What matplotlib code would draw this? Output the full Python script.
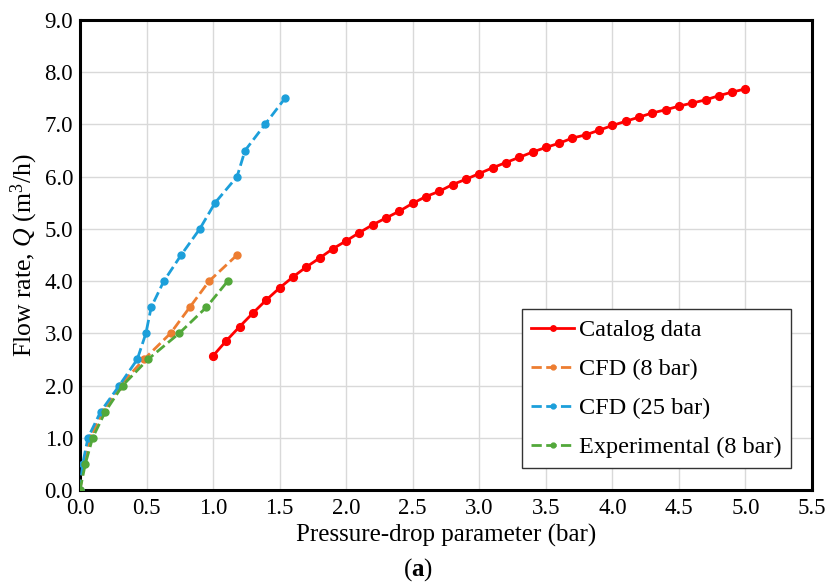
import matplotlib
matplotlib.use("Agg")
import matplotlib.pyplot as plt
from matplotlib.ticker import MultipleLocator, FormatStrFormatter

plt.rcParams['font.family'] = ['Liberation Serif', 'DejaVu Serif']
plt.rcParams['mathtext.fontset'] = 'custom'
plt.rcParams['mathtext.rm'] = 'Liberation Serif'
plt.rcParams['mathtext.it'] = 'Liberation Serif:italic'
plt.rcParams['mathtext.bf'] = 'Liberation Serif:bold'

# Catalog curve, pressure drop (bar) vs flow rate (m3/h)
catalog_dp = [1.0, 1.1, 1.2, 1.3, 1.4, 1.5, 1.6, 1.7, 1.8, 1.9, 2.0,
              2.1, 2.2, 2.3, 2.4, 2.5, 2.6, 2.7, 2.8, 2.9, 3.0,
              3.1, 3.2, 3.3, 3.4, 3.5, 3.6, 3.7, 3.8, 3.9, 4.0,
              4.1, 4.2, 4.3, 4.4, 4.5, 4.6, 4.7, 4.8, 4.9, 5.0]
catalog_q = [2.57, 2.86, 3.13, 3.39, 3.64, 3.87, 4.08, 4.27, 4.44, 4.62, 4.77,
             4.93, 5.08, 5.21, 5.34, 5.49, 5.62, 5.72, 5.85, 5.95, 6.06,
             6.17, 6.27, 6.37, 6.47, 6.56, 6.64, 6.74, 6.80, 6.89, 6.98,
             7.06, 7.14, 7.22, 7.28, 7.35, 7.41, 7.47, 7.55, 7.62, 7.68]

cfd8_dp = [0.0, 0.03, 0.075, 0.17, 0.30, 0.48, 0.68, 0.825, 0.97, 1.18]
cfd8_q = [0.0, 0.5, 1.0, 1.5, 2.0, 2.5, 3.0, 3.5, 4.0, 4.5]

cfd25_dp = [0.0, 0.02, 0.06, 0.155, 0.295, 0.43, 0.495, 0.535, 0.63, 0.76,
            0.90, 1.015, 1.18, 1.24, 1.39, 1.54]
cfd25_q = [0.0, 0.5, 1.0, 1.5, 2.0, 2.5, 3.0, 3.5, 4.0, 4.5,
           5.0, 5.5, 6.0, 6.5, 7.0, 7.5]

exp8_dp = [0.0, 0.04, 0.095, 0.19, 0.32, 0.51, 0.745, 0.95, 1.11]
exp8_q = [0.0, 0.5, 1.0, 1.5, 2.0, 2.5, 3.0, 3.5, 4.0]

fig = plt.figure(figsize=(8.31, 5.87), dpi=100)
ax = fig.add_axes([80/831, 1 - 490/587, (812 - 80)/831, (490 - 20)/587])

ax.plot(catalog_dp, catalog_q, '-o', color='#FF0000', lw=2, ms=5.6,
        label='Catalog data', zorder=3)
ax.plot(cfd8_dp, cfd8_q, '--o', color='#ED7D31', lw=2, ms=5.0,
        label='CFD (8 bar)', zorder=3)
ax.plot(cfd25_dp, cfd25_q, '--o', color='#1C9FDA', lw=2, ms=5.0,
        label='CFD (25 bar)', zorder=3)
ax.plot(exp8_dp, exp8_q, '--o', color='#52A83A', lw=2, ms=5.0,
        label='Experimental (8 bar)', zorder=4)

ax.set_xlim(0, 5.5)
ax.set_ylim(0, 9)
ax.xaxis.set_major_locator(MultipleLocator(0.5))
ax.yaxis.set_major_locator(MultipleLocator(1.0))
ax.xaxis.set_major_formatter(FormatStrFormatter('%.1f'))
ax.yaxis.set_major_formatter(FormatStrFormatter('%.1f'))
ax.tick_params(length=0, labelsize=16.5)
ax.tick_params(axis='x', pad=6)
ax.tick_params(axis='y', pad=5)
ax.grid(True, color='#d9d9d9', lw=1)
ax.set_axisbelow(True)

for side in ['left', 'bottom', 'top', 'right']:
    ax.spines[side].set_linewidth(2.2)
    ax.spines[side].set_color('black')

ax.set_xlabel('Pressure-drop parameter (bar)', fontsize=18, labelpad=3)
ax.set_ylabel(r'Flow rate, $\mathit{Q}$ (m$^3$/h)', fontsize=18.5, labelpad=3)

leg = ax.legend(loc='lower right', bbox_to_anchor=(0.9714, 0.0468), fontsize=17.5,
                borderaxespad=0, frameon=True, fancybox=False, framealpha=1,
                edgecolor='#333333', handlelength=1.75, handletextpad=0.2,
                labelspacing=0.7, borderpad=0.4, markerscale=0.7)
leg.get_frame().set_linewidth(1.0)

fig.text(418/831, 1 - 570/587, r'($\mathbf{a}$)', ha='center', va='center', fontsize=18)

fig.savefig('out.png', dpi=100)
